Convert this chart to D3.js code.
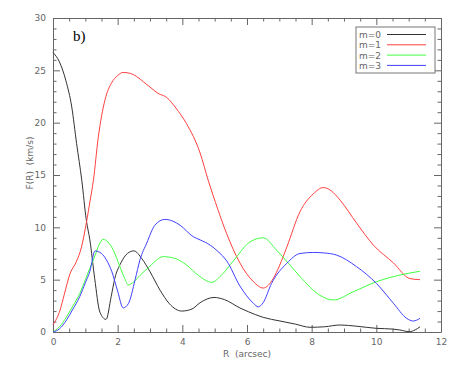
<!DOCTYPE html>
<html>
<head>
<meta charset="utf-8">
<script src="https://cdn.jsdelivr.net/npm/d3@7"></script>
<style>
  body { margin: 0; background: #fff; }
  svg { display: block; }
  .axis text { font-family: "DejaVu Sans", sans-serif; font-size: 9px; fill: #666; }
  .axis path, .axis line { stroke: #666; }
</style>
</head>
<body>
<div id="chart"></div>
<script>
// series: radius (arcsec) and F(R) (km/s)
const m0R = [0, 0.2, 0.4, 0.58, 0.73, 0.89, 1.03, 1.14, 1.29, 1.45, 1.64, 1.8, 1.91, 2.1, 2.3, 2.5, 2.75, 3.0, 3.31, 3.6, 3.98, 4.3, 4.55, 4.98, 5.3, 5.78, 6.04, 6.5, 7.02, 7.5, 7.95, 8.4, 8.88, 9.4, 10.0, 10.5, 10.73, 11.02, 11.2, 11.35];
const m0V = [26.7, 25.8, 24.0, 21.5, 18.0, 14.5, 10.7, 8.8, 5.1, 1.9, 1.2, 3.4, 5.1, 6.6, 7.5, 7.75, 7.0, 5.76, 4.0, 2.7, 2.0, 2.2, 2.8, 3.3, 3.1, 2.3, 1.94, 1.4, 1.05, 0.75, 0.45, 0.5, 0.67, 0.55, 0.35, 0.28, 0.19, 0.03, 0.2, 0.5];

const m1R = [0, 0.22, 0.35, 0.53, 0.72, 0.88, 1.03, 1.15, 1.25, 1.4, 1.61, 1.81, 2.0, 2.17, 2.4, 2.59, 2.8, 3.0, 3.25, 3.52, 3.8, 4.13, 4.55, 4.8, 5.1, 5.37, 5.78, 6.2, 6.5, 6.81, 7.0, 7.23, 7.64, 8.05, 8.36, 8.6, 8.88, 9.39, 9.91, 10.53, 11.04, 11.35];
const m1V = [0.7, 2.1, 3.6, 5.6, 6.7, 8.1, 10.4, 12.6, 14.5, 18.6, 22.2, 23.8, 24.5, 24.8, 24.7, 24.4, 23.9, 23.4, 22.8, 22.4, 21.4, 19.9, 17.1, 14.5, 11.7, 9.4, 6.6, 4.8, 4.2, 5.1, 6.3, 8.1, 11.5, 13.2, 13.8, 13.5, 12.6, 10.4, 8.3, 6.6, 5.1, 5.0];

const m2R = [0, 0.2, 0.42, 0.6, 0.83, 1.0, 1.14, 1.3, 1.42, 1.55, 1.7, 1.87, 2.05, 2.22, 2.33, 2.5, 2.69, 3.0, 3.41, 3.8, 4.13, 4.5, 4.91, 5.2, 5.58, 6.09, 6.5, 6.92, 7.3, 7.64, 8.26, 8.67, 9.29, 10.0, 10.73, 11.35];
const m2V = [0, 0.5, 1.46, 2.4, 3.7, 5.0, 6.1, 7.3, 8.3, 8.85, 8.6, 7.8, 6.4, 5.1, 4.5, 4.8, 5.4, 6.3, 7.2, 7.0, 6.4, 5.4, 4.75, 5.4, 6.8, 8.6, 9.0, 7.8, 6.5, 5.3, 3.5, 3.06, 3.85, 4.8, 5.44, 5.8];

const m3R = [0, 0.2, 0.42, 0.6, 0.83, 1.0, 1.14, 1.3, 1.5, 1.65, 1.82, 2.0, 2.17, 2.33, 2.54, 2.69, 2.9, 3.15, 3.46, 3.7, 3.93, 4.34, 4.55, 4.86, 5.1, 5.37, 5.78, 6.2, 6.35, 6.5, 6.76, 7.23, 7.64, 8.05, 8.4, 8.77, 9.39, 10.0, 10.53, 10.94, 11.14, 11.35];
const m3V = [0, 0.3, 1.15, 2.1, 3.4, 4.7, 5.8, 7.75, 7.5, 6.9, 5.76, 3.9, 2.3, 2.7, 5.0, 6.9, 8.5, 10.2, 10.76, 10.6, 10.2, 9.1, 8.8, 8.3, 7.7, 6.8, 4.4, 2.74, 2.4, 2.8, 4.65, 6.56, 7.5, 7.6, 7.55, 7.35, 6.24, 4.65, 2.74, 1.3, 1.05, 1.3];

const seriesNames = ["m=0", "m=1", "m=2", "m=3"];
const seriesColors = ["#333333", "#ff4040", "#40ff40", "#4040ff"];
const xTicks = [0, 2, 4, 6, 8, 10, 12];
const yTicks = [0, 5, 10, 15, 20, 25, 30];

const MARGIN = { LEFT: 53, RIGHT: 17, TOP: 18, BOTTOM: 34 };
const W = 458, H = 366;
const WIDTH = W - MARGIN.LEFT - MARGIN.RIGHT;
const HEIGHT = H - MARGIN.TOP - MARGIN.BOTTOM;

const svg = d3.select("#chart").append("svg")
    .attr("width", W).attr("height", H)
  .append("g")
    .attr("transform", `translate(${MARGIN.LEFT}, ${MARGIN.TOP})`);

const x = d3.scaleLinear().domain([0, 12]).range([0, WIDTH]);
const y = d3.scaleLinear().domain([0, 30]).range([HEIGHT, 0]);

const xMinor = d3.range(0, 12.01, 0.5).filter(v => xTicks.indexOf(v) < 0);
const yMinor = d3.range(0, 30.01, 1).filter(v => yTicks.indexOf(v) < 0);

// major + minor ticks, all pointing inward
function drawAxis(axisFn, scale, major, minor, transform, labels) {
  const g = svg.append("g").attr("class", "axis").attr("transform", transform);
  g.call(axisFn(scale).tickValues(major).tickSizeInner(-7).tickSizeOuter(0)
      .tickPadding(labels ? 7 : 0).tickFormat(labels ? d3.format("d") : ""));
  const gm = svg.append("g").attr("class", "axis").attr("transform", transform);
  gm.call(axisFn(scale).tickValues(minor).tickSizeInner(-3.5).tickSizeOuter(0).tickFormat(""));
  gm.select(".domain").remove();
  return g;
}

drawAxis(d3.axisBottom, x, xTicks, xMinor, `translate(0, ${HEIGHT})`, true);
drawAxis(d3.axisTop, x, xTicks, xMinor, `translate(0, 0)`, false);
drawAxis(d3.axisLeft, y, yTicks, yMinor, `translate(0, 0)`, true);
drawAxis(d3.axisRight, y, yTicks, yMinor, `translate(${WIDTH}, 0)`, false);

svg.append("text")
    .attr("x", WIDTH / 2).attr("y", HEIGHT + 25)
    .attr("text-anchor", "middle")
    .style("font-family", "DejaVu Sans, sans-serif").style("font-size", "9px").style("fill", "#666")
    .attr("xml:space", "preserve")
    .text("R  (arcsec)");

svg.append("text")
    .attr("transform", `translate(-20, ${HEIGHT / 2 - 12}) rotate(-90)`)
    .attr("text-anchor", "middle")
    .style("font-family", "DejaVu Sans, sans-serif").style("font-size", "9px").style("fill", "#666")
    .attr("xml:space", "preserve")
    .text("F(R)  (km/s)");

svg.append("text")
    .attr("x", 20).attr("y", 23)
    .style("font-family", "Liberation Serif, serif").style("font-size", "15px").style("fill", "#000")
    .text("b)");

const line = d3.line()
    .x(d => x(d[0]))
    .y(d => y(d[1]))
    .curve(d3.curveMonotoneX);

const series = [[m0R, m0V], [m1R, m1V], [m2R, m2V], [m3R, m3V]];

svg.selectAll("path.curve")
  .data(series)
  .enter().append("path")
    .attr("class", "curve")
    .attr("d", d => line(d3.zip(d[0], d[1])))
    .attr("fill", "none")
    .attr("stroke", (d, i) => seriesColors[i])
    .attr("stroke-width", 1);

// legend box
const legend = svg.append("g")
    .attr("transform", `translate(${WIDTH - 85}, 9)`);

legend.append("rect")
    .attr("x", 0).attr("y", 0)
    .attr("width", 79).attr("height", 46)
    .attr("fill", "#fff").attr("stroke", "#777").attr("stroke-width", 1);

const rows = legend.selectAll("g.row")
  .data(seriesNames)
  .enter().append("g")
    .attr("class", "row")
    .attr("transform", (d, i) => `translate(0, ${7.5 + i * 10.3})`);

rows.append("text")
    .attr("x", 3).attr("y", 3.5)
    .style("font-family", "DejaVu Sans, sans-serif").style("font-size", "9px").style("fill", "#666")
    .text(d => d);

rows.append("line")
    .attr("x1", 31).attr("x2", 70)
    .attr("y1", 0).attr("y2", 0)
    .attr("stroke", (d, i) => seriesColors[i])
    .attr("stroke-width", 1);
</script>
</body>
</html>
